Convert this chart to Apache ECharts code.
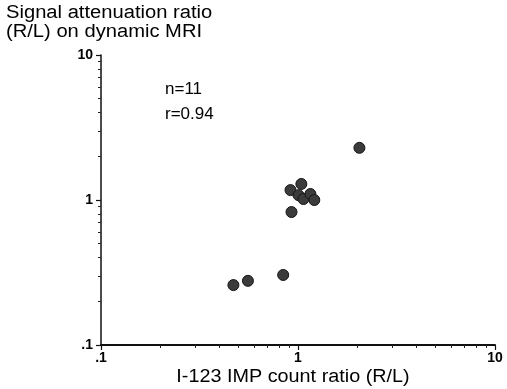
<!DOCTYPE html>
<html>
<head>
<meta charset="utf-8">
<script src="https://cdn.jsdelivr.net/npm/echarts@6/dist/echarts.min.js"></script>
<style>
html,body{margin:0;padding:0;background:#fff;}
#chart{width:507px;height:389px;}
</style>
</head>
<body>
<div id="chart"></div>
<script>
// I-123 IMP count ratio (R/L)
const imp = [2.05, 1.04, 0.916, 1.006, 1.066, 1.156, 1.21, 0.927, 0.841, 0.557, 0.470];
// Signal attenuation ratio (R/L) on dynamic MRI
const mri = [2.29, 1.29, 1.17, 1.08, 1.016, 1.10, 1.00, 0.826, 0.304, 0.277, 0.259];
const majorTicks = [0.1, 1, 10];
const majorTickLabels = ['.1', '1', '10'];
const minorTicks = [0.2, 0.3, 0.4, 0.5, 0.6, 0.7, 0.8, 0.9, 2, 3, 4, 5, 6, 7, 8, 9];
const xTitle = 'I-123 IMP count ratio (R/L)';
const yTitle = 'Signal attenuation ratio\n(R/L) on dynamic MRI';
const statLines = ['n=11', 'r=0.94'];

const FONT = '"Liberation Sans", Arial, Helvetica, sans-serif';
const labelFmt = v => {
  const i = majorTicks.findIndex(t => Math.abs(t - v) < 1e-9);
  return i >= 0 ? majorTickLabels[i] : '';
};
const minorLog = minorTicks.map(v => Math.log10(v));

const gridBox = {left: 101, right: 12, top: 55, bottom: 44, containLabel: false};

const mainAxis = (isX) => ({
  type: 'log', logBase: 10, min: 0.1, max: 10, gridIndex: 0,
  position: isX ? 'bottom' : 'left',
  axisLine: {show: true, onZero: false, lineStyle: {color: '#111', width: isX ? 2 : 1.5}},
  axisTick: {show: true, length: 5, lineStyle: {color: '#111', width: 1.2}},
  axisLabel: {formatter: labelFmt, color: '#000', fontWeight: 'bold', fontSize: 14,
              fontFamily: FONT, margin: isX ? 6 : 8},
  splitLine: {show: false}, minorTick: {show: false}
});
const minorAxis = (isX) => ({
  type: 'value', min: -1, max: 1, gridIndex: 1,
  position: isX ? 'bottom' : 'left',
  axisLine: {show: false, onZero: false},
  axisTick: {show: true, customValues: minorLog, length: 3, lineStyle: {color: '#222', width: 1}},
  axisLabel: {show: false},
  splitLine: {show: false}
});

const chart = echarts.init(document.getElementById('chart'), null, {renderer: 'canvas'});
chart.setOption({
  animation: false,
  backgroundColor: '#fff',
  grid: [Object.assign({}, gridBox), Object.assign({}, gridBox)],
  xAxis: [mainAxis(true), minorAxis(true)],
  yAxis: [mainAxis(false), minorAxis(false)],
  series: [{
    type: 'scatter',
    xAxisIndex: 0, yAxisIndex: 0,
    data: imp.map((x, i) => [x, mri[i]]),
    symbol: 'circle', symbolSize: 11,
    itemStyle: {color: '#3b3b3b', borderColor: '#151515', borderWidth: 1, opacity: 1}
  }],
  graphic: [
    {type: 'text', x: 6, y: 4, scaleX: 1.12,
     style: {text: yTitle, font: '18px ' + FONT, fill: '#000', lineHeight: 19}},
    {type: 'text', x: 293, y: 368, scaleX: 1.1,
     style: {text: xTitle, font: '18px ' + FONT, fill: '#000', align: 'center'}},
    {type: 'text', x: 165, y: 81,
     style: {text: statLines[0], font: '17px ' + FONT, fill: '#000'}},
    {type: 'text', x: 165, y: 106,
     style: {text: statLines[1], font: '17px ' + FONT, fill: '#000'}}
  ]
});
</script>
</body>
</html>
